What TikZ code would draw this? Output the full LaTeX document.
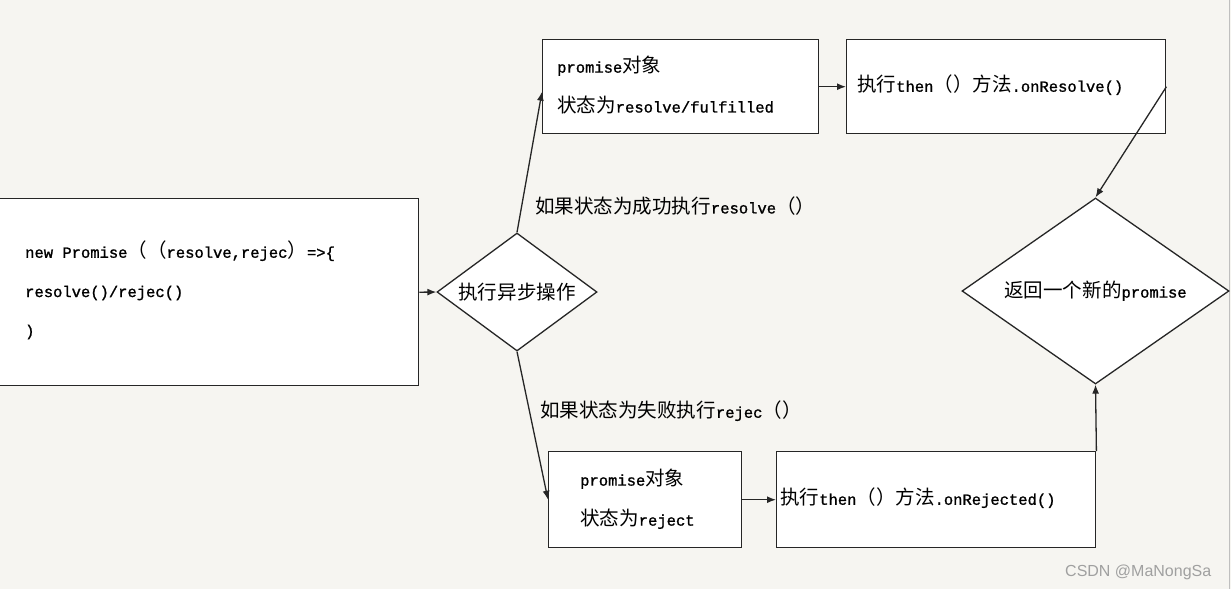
\documentclass[tikz,border=0pt]{standalone}
\usepackage{fontspec}
\setmainfont[FakeBold=1.2]{Liberation Mono}
\newfontfamily\cjk[Scale=1.26]{Noto Sans CJK SC}
\newfontfamily\wmfont{Liberation Sans}
\usetikzlibrary{shapes.geometric,arrows.meta,calc}
\definecolor{bgc}{HTML}{F6F5F1}
\definecolor{linec}{HTML}{262626}
\definecolor{wmc}{HTML}{A0A0A0}
\newcommand\zh[1]{{\cjk #1}}
\tikzset{
  boxnode/.style={draw=linec, fill=white, line width=1.4pt, anchor=north west, inner sep=0pt},
  dianode/.style={diamond, draw=linec, fill=white, line width=1.3pt, inner sep=0pt, font=\fontsize{15.5}{18}\selectfont},
  txt/.style={anchor=west, inner sep=0pt, font=\fontsize{15.5}{18}\selectfont, text=black},
  arr/.style={draw=linec, line width=1.3pt, -{Latex[length=9pt,width=7pt]}}
}
\begin{document}
\begin{tikzpicture}[x=1pt,y=-1pt]
\useasboundingbox (0,0) rectangle (1231,589);
\fill[bgc] (0,0) rectangle (1231,589);
\draw[black!25, line width=0.8pt] (1229.5,0) -- (1229.5,589);
% boxes
\node[boxnode, minimum width=420pt, minimum height=187pt] (lb) at (-2,198) {};
\node[boxnode, minimum width=276pt, minimum height=94pt] (tb1) at (542,39) {};
\node[boxnode, minimum width=319pt, minimum height=94pt] (tb2) at (846,39) {};
\node[boxnode, minimum width=193pt, minimum height=96pt] (bb1) at (548,451) {};
\node[boxnode, minimum width=319pt, minimum height=96pt] (bb2) at (776,451) {};
% diamonds
\node[dianode, aspect=1.36, minimum width=160pt, minimum height=118pt] (d1) at (517,292) {\zh{执行异步操作}};
\node[dianode, aspect=1.435, minimum width=267pt, minimum height=186pt] (d2) at (1095.5,291) {\zh{返回一个新的}promise};
% texts
\node[txt] (l1) at (25,251) {new Promise\zh{（（}resolve,rejec\zh{）}=>\{};
\node[txt] (l2) at (25,293) {resolve()/rejec()};
\node[txt] (l3) at (25,332) {)};
\node[txt] (t1a) at (557,66) {promise\zh{对象}};
\node[txt] (t1b) at (557,105) {\zh{状态为}resolve/fulfilled};
\node[txt] (t2) at (857,85) {\zh{执行}then\zh{（）方法}.onResolve()};
\node[txt] (b1a) at (580,479) {promise\zh{对象}};
\node[txt] (b1b) at (580,519) {\zh{状态为}reject};
\node[txt] (b2) at (780,498) {\zh{执行}then\zh{（）方法}.onRejected()};
\node[txt] (lab1) at (535,206) {\zh{如果状态为成功执行}resolve\zh{（）}};
\node[txt] (lab2) at (540,411) {\zh{如果状态为失败执行}rejec\zh{（）}};
\node[anchor=west, inner sep=0pt, text=wmc, font=\wmfont\fontsize{16}{18}\selectfont] (wm) at (1065,572) {CSDN @MaNongSa};
% connectors
\coordinate (tb1in) at ($(tb1.west)+(0,5)$);
\draw[arr] (lb.east) -- (d1.west);
\draw[arr] (d1.north) -- (tb1in);
\draw[arr] (d1.south) -- (bb1.west);
\draw[arr] (tb1.east) -- (tb2.west);
\draw[arr] (bb1.east) -- (bb2.west);
\draw[arr] (tb2.east) -- (d2.north);
\draw[arr] (bb2.north east) -- (d2.south);
\end{tikzpicture}
\end{document}
